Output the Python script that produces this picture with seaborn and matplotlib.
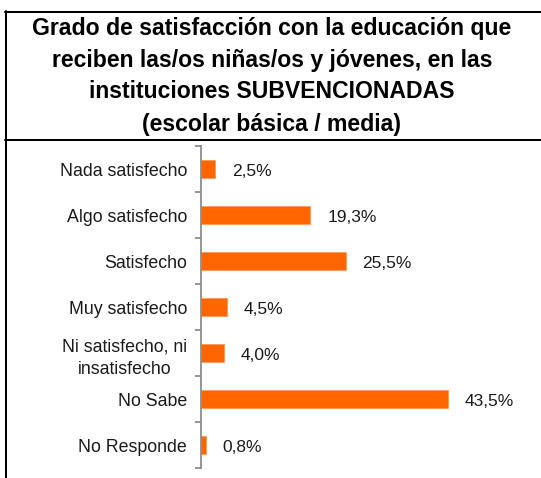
import matplotlib
matplotlib.use("Agg")
import matplotlib.pyplot as plt
from matplotlib.lines import Line2D
import seaborn as sns
import pandas as pd

categories = [
    "Nada satisfecho",
    "Algo satisfecho",
    "Satisfecho",
    "Muy satisfecho",
    "Ni satisfecho, ni\ninsatisfecho",
    "No Sabe",
    "No Responde",
]
values = [2.5, 19.3, 25.5, 4.5, 4.0, 43.5, 0.8]
value_labels = ["2,5%", "19,3%", "25,5%", "4,5%", "4,0%", "43,5%", "0,8%"]
title_lines = [
    "Grado de satisfacción con la educación que",
    "reciben las/os niñas/os y jóvenes, en las",
    "instituciones SUBVENCIONADAS",
    "(escolar básica / media)",
]

sns.set_style("white")
plt.rcParams["font.family"] = ["Liberation Sans", "DejaVu Sans"]

W, H = 541, 478
fig = plt.figure(figsize=(W / 100, H / 100), dpi=100)
fig.patch.set_facecolor("white")

df = pd.DataFrame({"categoria": categories, "valor": values})

# plot area: y axis at x=201 px, spans 146..468 px from top
ax = fig.add_axes([201 / W, 1 - 468 / H, (W - 201) / W, (468 - 146) / H])
sns.barplot(data=df, x="valor", y="categoria", orient="h", color="#FF6600",
            saturation=1, width=0.39, ax=ax, edgecolor="#FF9A5C", linewidth=0.6)

ax.set_xlim(0, 60)
ax.set_ylim(len(categories) - 0.5, -0.5)
ax.set_xlabel("")
ax.set_ylabel("")
ax.set_xticks([])
for s in ["top", "right", "bottom"]:
    ax.spines[s].set_visible(False)
ax.spines["left"].set_color("#8C8C8C")
ax.spines["left"].set_linewidth(1.3)

# category labels without ticks; boundary ticks as minor ticks
ax.set_yticks(range(len(categories)))
ax.set_yticklabels(categories, fontsize=12.8, color="#1a1a1a",
                   multialignment="center", linespacing=1.5)
ax.tick_params(axis="y", which="major", left=True, length=0, pad=10)
ax.set_yticks([i - 0.5 for i in range(len(categories) + 1)], minor=True)
ax.tick_params(axis="y", which="minor", left=True, length=4.5, width=1.3,
               color="#8C8C8C", direction="out")

for i, (v, lab) in enumerate(zip(values, value_labels)):
    ax.annotate(lab, xy=(v, i), xytext=(17, -3), textcoords="offset pixels",
                ha="left", va="center", fontsize=12.5, color="#1a1a1a")

# title text, bold, centred
title_y = [28, 60, 92, 124]
for line, y in zip(title_lines, title_y):
    fig.text(272 / W, 1 - y / H, line, ha="center", va="center",
             fontsize=16.6, fontweight="bold", color="black")

# frame lines: top, separator under the title, left edge
lw = 2.0 * 72 / 100
fig.add_artist(Line2D([5 / W, 1], [1 - 12 / H, 1 - 12 / H], color="black",
                      linewidth=lw, transform=fig.transFigure))
fig.add_artist(Line2D([5 / W, 1], [1 - 140 / H, 1 - 140 / H], color="black",
                      linewidth=lw, transform=fig.transFigure))
fig.add_artist(Line2D([5.5 / W, 5.5 / W], [0, 1 - 11 / H], color="black",
                      linewidth=lw, transform=fig.transFigure))

fig.savefig("out.png", dpi=100, facecolor="white")
